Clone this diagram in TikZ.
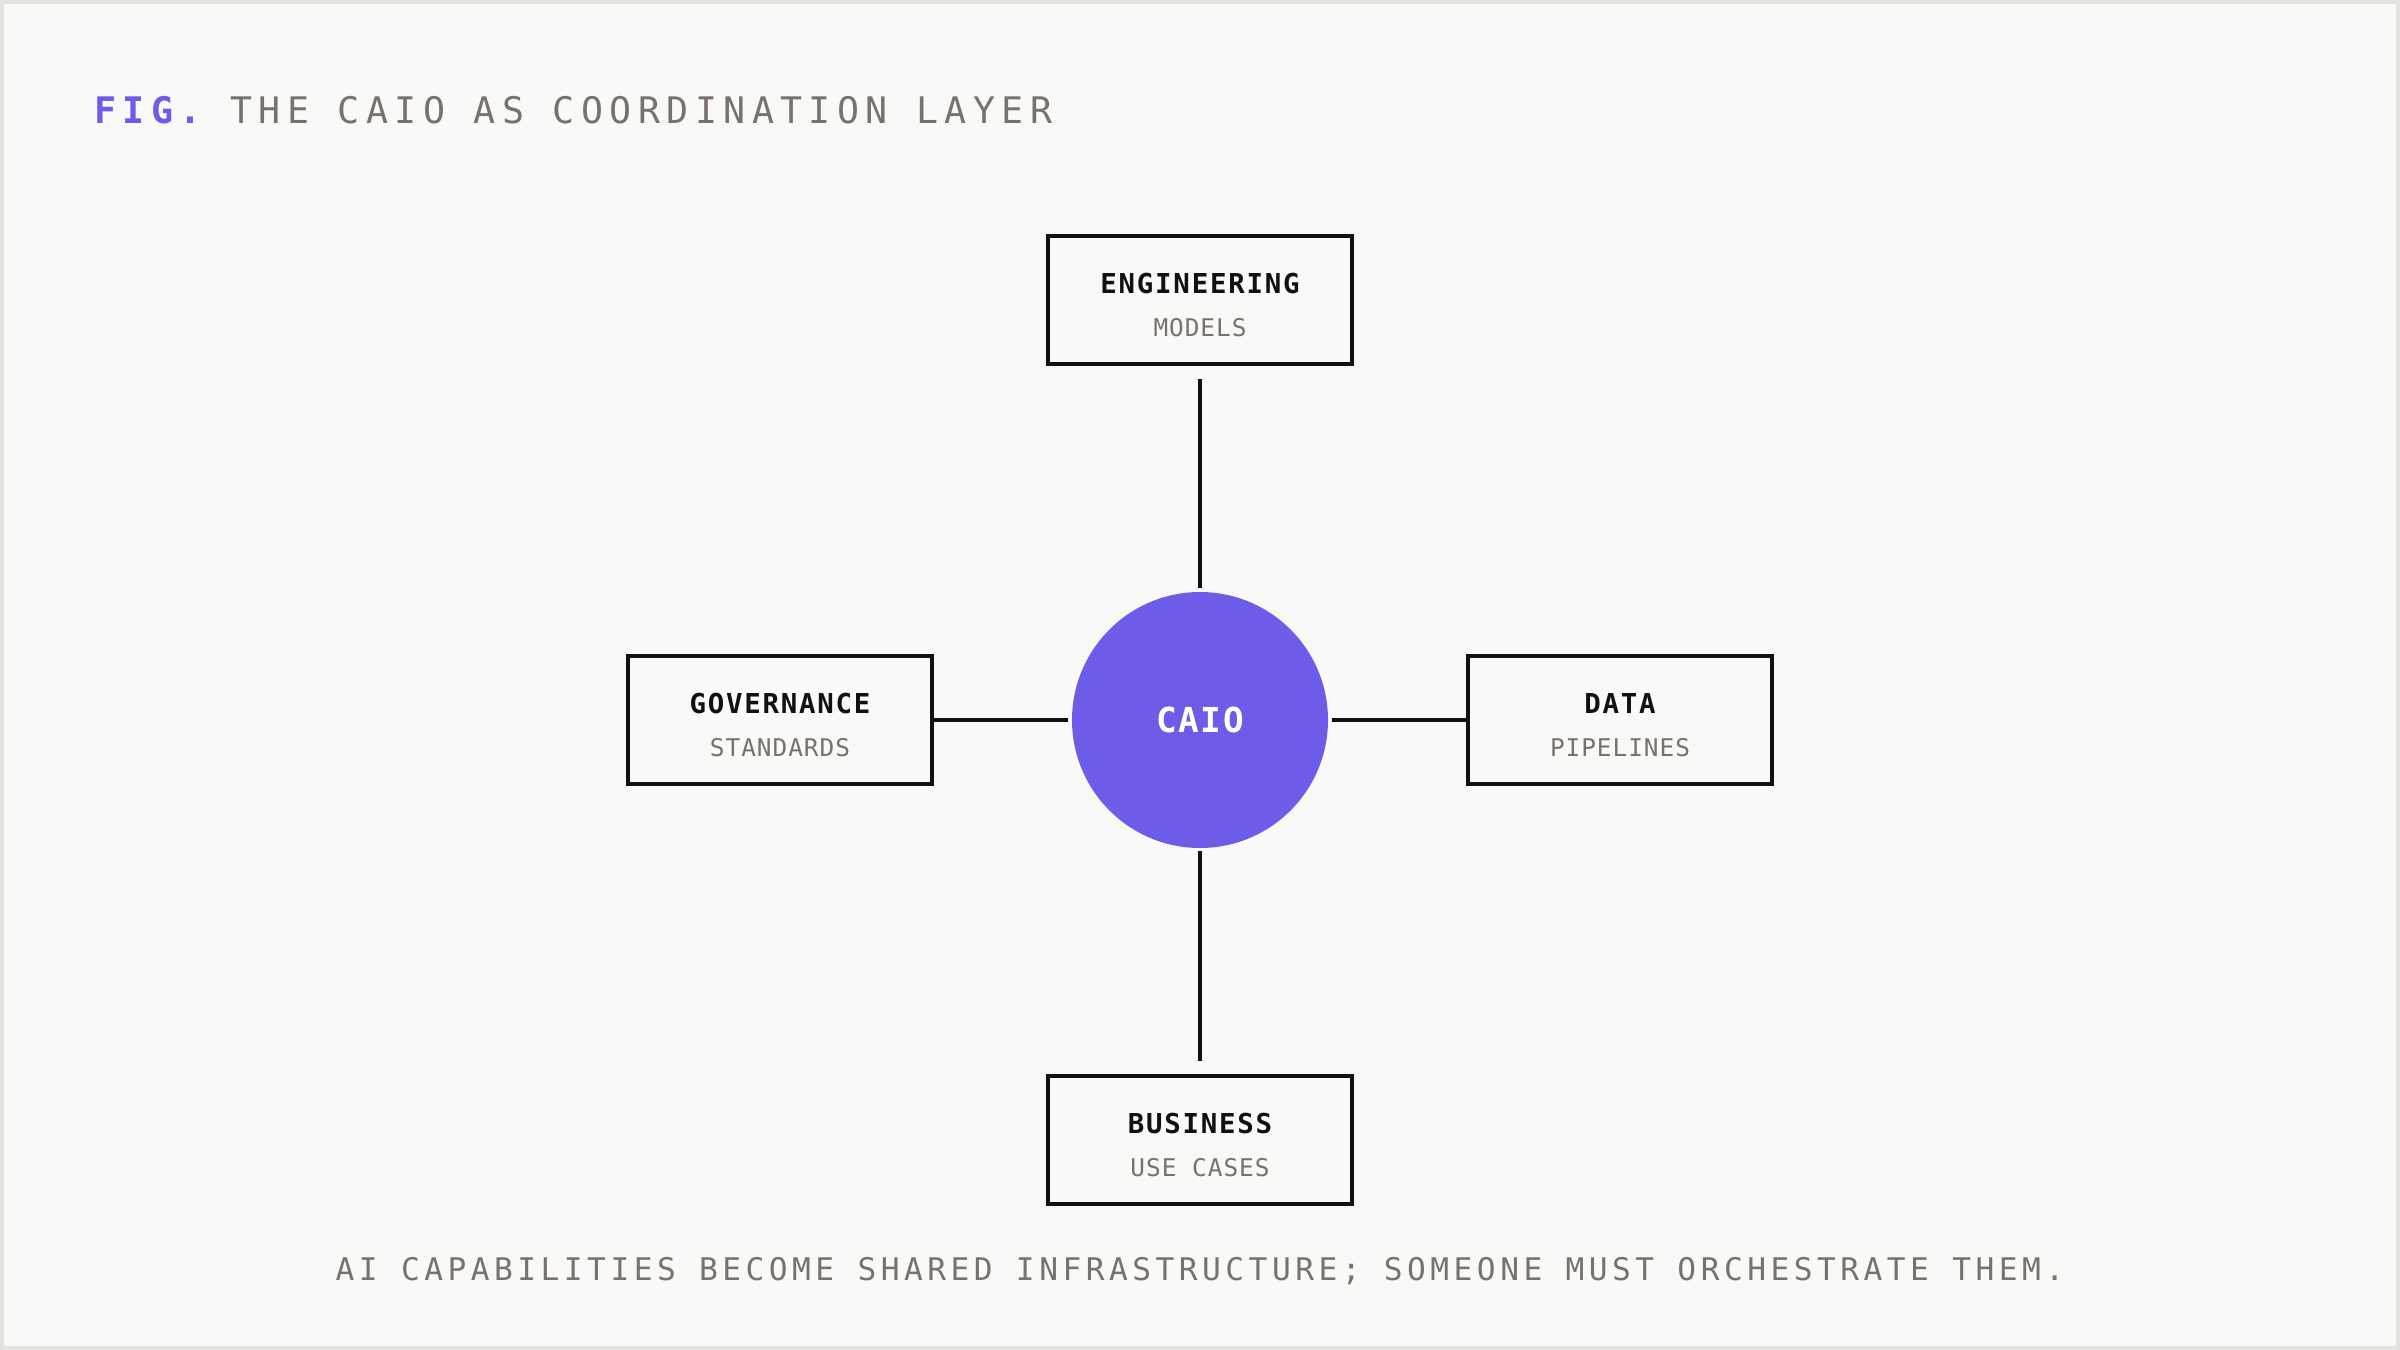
\documentclass[tikz,border=0pt]{standalone}
\usepackage{fontspec}
\setmonofont{DejaVu Sans Mono}
\newfontfamily\figfont[LetterSpace=17.6]{DejaVu Sans Mono}
\newfontfamily\headfont[LetterSpace=6.5]{DejaVu Sans Mono}
\newfontfamily\subfont[LetterSpace=4]{DejaVu Sans Mono}
\newfontfamily\hubfont[LetterSpace=5]{DejaVu Sans Mono}
\newfontfamily\notefont[LetterSpace=14.4]{DejaVu Sans Mono}
\usetikzlibrary{positioning}
\definecolor{paper}{HTML}{F9F9F7}
\definecolor{frame}{HTML}{E5E3E0}
\definecolor{accent}{HTML}{6C5CE7}
\definecolor{ink}{HTML}{111111}
\definecolor{muted}{HTML}{79726C}

\begin{document}
\begin{tikzpicture}[
  x=0.5pt, y=-0.5pt,
  box/.style={draw=ink,line width=2.2pt,fill=paper,minimum width=152pt,minimum height=64pt,inner sep=0pt,outer sep=0pt},
  hub/.style={circle,fill=accent,minimum size=128pt,inner sep=0pt,outer sep=0pt,text=white,
    font=\hubfont\bfseries\fontsize{17.2pt}{20pt}\selectfont},
  head/.style={anchor=base,inner sep=0pt,text=ink,font=\headfont\bfseries\fontsize{13.7pt}{16pt}\selectfont},
  sub/.style={anchor=base,inner sep=0pt,text=muted,font=\subfont\fontsize{12.2pt}{14pt}\selectfont},
  link/.style={draw=ink,line width=1.8pt}
]
% page and frame
\useasboundingbox (0,0) rectangle (2400,1350);
\fill[frame] (0,0) rectangle (2400,1350);
\fill[paper] (4,4) rectangle (2396,1346);

% title and caption
\node[anchor=base west,inner sep=0pt,text=muted,font=\figfont\fontsize{18.3pt}{20pt}\selectfont] (title) at (94,123)
  {\textcolor{accent}{\bfseries FIG.} THE CAIO AS COORDINATION LAYER};
\node[anchor=base,inner sep=0pt,text=muted,font=\notefont\fontsize{15.6pt}{18pt}\selectfont] (note) at (1200,1280)
  {AI CAPABILITIES BECOME SHARED INFRASTRUCTURE; SOMEONE MUST ORCHESTRATE THEM.};

% hub and the four functions
\node[hub] (caio) at (1200,720) {CAIO};
\node[box, above=114pt of caio] (eng) {};
\node[box, left=70pt of caio] (gov) {};
\node[box, right=70pt of caio] (data) {};
\node[box, below=114pt of caio] (biz) {};

\node[head] (eng-t) at ([yshift=3.5pt]eng.center) {ENGINEERING};
\node[sub] (eng-s) at ([yshift=-18pt]eng.center) {MODELS};
\node[head] (gov-t) at ([yshift=3.5pt]gov.center) {GOVERNANCE};
\node[sub] (gov-s) at ([yshift=-18pt]gov.center) {STANDARDS};
\node[head] (data-t) at ([yshift=3.5pt]data.center) {DATA};
\node[sub] (data-s) at ([yshift=-18pt]data.center) {PIPELINES};
\node[head] (biz-t) at ([yshift=3.5pt]biz.center) {BUSINESS};
\node[sub] (biz-s) at ([yshift=-18pt]biz.center) {USE CASES};

% spokes
\draw[link, shorten <=7.5pt, shorten >=2pt] (eng) -- (caio);
\draw[link, shorten <=1.5pt, shorten >=7.75pt] (caio) -- (biz);
\draw[link, shorten >=2pt] (gov) -- (caio);
\draw[link, shorten <=2pt] (caio) -- (data);
\end{tikzpicture}
\end{document}
